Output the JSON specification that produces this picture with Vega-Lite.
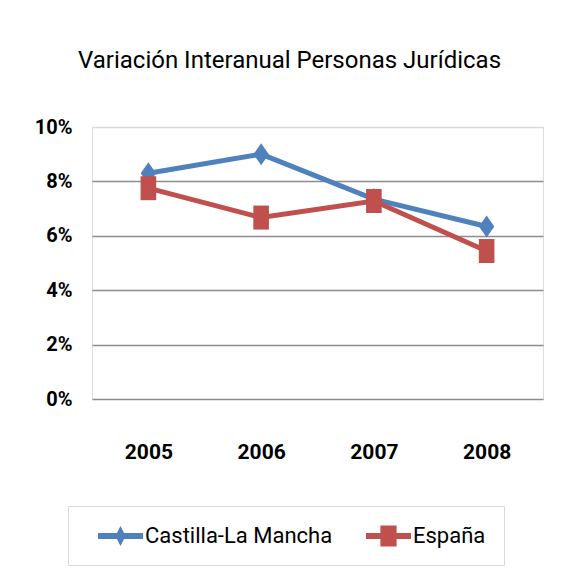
{
  "$schema": "https://vega.github.io/schema/vega-lite/v6.json",
  "width": 451,
  "height": 272,
  "autosize": "none",
  "padding": {"left": 92, "top": 127, "right": 24, "bottom": 184},
  "background": "white",
  "title": {
    "text": "Variación Interanual Personas Jurídicas",
    "font": "Roboto",
    "fontSize": 24,
    "fontWeight": "normal",
    "color": "black",
    "anchor": "middle",
    "frame": "group",
    "dx": -28,
    "offset": 44
  },
  "data": {
    "values": [
      {"series": "Castilla-La Mancha", "year": "2005", "value": 0.083},
      {"series": "Castilla-La Mancha", "year": "2006", "value": 0.090},
      {"series": "Castilla-La Mancha", "year": "2007", "value": 0.0735},
      {"series": "Castilla-La Mancha", "year": "2008", "value": 0.0634},
      {"series": "España", "year": "2005", "value": 0.0775},
      {"series": "España", "year": "2006", "value": 0.0667},
      {"series": "España", "year": "2007", "value": 0.0728},
      {"series": "España", "year": "2008", "value": 0.0544}
    ]
  },
  "encoding": {
    "x": {
      "field": "year",
      "type": "ordinal",
      "scale": {"padding": 0.5},
      "axis": {
        "title": null,
        "labelAngle": 0,
        "ticks": false,
        "domain": false,
        "grid": false,
        "labelFont": "Roboto",
        "labelFontSize": 21,
        "labelFontWeight": "bold",
        "labelColor": "black",
        "labelPadding": 42
      }
    },
    "y": {
      "field": "value",
      "type": "quantitative",
      "scale": {"domain": [0, 0.1]},
      "axis": {
        "title": null,
        "values": [0, 0.02, 0.04, 0.06, 0.08, 0.1],
        "format": ".0%",
        "ticks": false,
        "domain": false,
        "labelFont": "Roboto",
        "labelFontSize": 20,
        "labelFontWeight": "bold",
        "labelColor": "black",
        "labelPadding": 20,
        "gridWidth": 1.5,
        "gridColor": {
          "condition": {"test": "datum.value >= 0.099", "value": "#d9d9d9"},
          "value": "#8c8c8c"
        }
      }
    }
  },
  "layer": [
    {
      "transform": [{"filter": "datum.series == 'Castilla-La Mancha'"}],
      "mark": {
        "type": "line",
        "color": "#4F81BD",
        "strokeWidth": 5,
        "point": {"filled": true, "color": "#4F81BD", "shape": "M-0.7,0L0,-1L0.7,0L0,1Z", "size": 484, "opacity": 1}
      }
    },
    {
      "transform": [{"filter": "datum.series == 'España'"}],
      "mark": {
        "type": "line",
        "color": "#C0504D",
        "strokeWidth": 5,
        "point": {"filled": true, "color": "#C0504D", "shape": "M-0.65,-1H0.65V1H-0.65Z", "size": 576, "opacity": 1}
      }
    },
    {
      "transform": [{"filter": "false"}],
      "mark": {"type": "point", "filled": true},
      "encoding": {
        "color": {
          "field": "series",
          "type": "nominal",
          "scale": {"domain": ["Castilla-La Mancha", "España"], "range": ["#4F81BD", "#C0504D"]},
          "legend": {
            "title": null,
            "orient": "none",
            "legendX": -24,
            "legendY": 379,
            "direction": "horizontal",
            "strokeColor": "#d9d9d9",
            "padding": 18,
            "symbolSize": 576,
            "symbolStrokeWidth": 0,
            "symbolOpacity": 1,
            "labelFont": "Roboto",
            "labelFontSize": 22,
            "labelColor": "black",
            "labelLimit": 400,
            "labelOffset": 35,
            "columnPadding": 21
          }
        },
        "shape": {
          "field": "series",
          "type": "nominal",
          "scale": {
            "domain": ["Castilla-La Mancha", "España"],
            "range": [
              "M0,-0.25H3.75V0.25H0Z M1.45,0L1.875,-0.83L2.3,0L1.875,0.83Z",
              "M0,-0.25H3.75V0.25H0Z M1.2,-0.875H2.55V0.875H1.2Z"
            ]
          },
          "legend": {
            "title": null,
            "orient": "none",
            "legendX": -24,
            "legendY": 379,
            "direction": "horizontal",
            "strokeColor": "#d9d9d9",
            "padding": 18,
            "symbolSize": 576,
            "symbolStrokeWidth": 0,
            "symbolOpacity": 1,
            "labelFont": "Roboto",
            "labelFontSize": 22,
            "labelColor": "black",
            "labelLimit": 400,
            "labelOffset": 35,
            "columnPadding": 21
          }
        }
      }
    }
  ]
}
